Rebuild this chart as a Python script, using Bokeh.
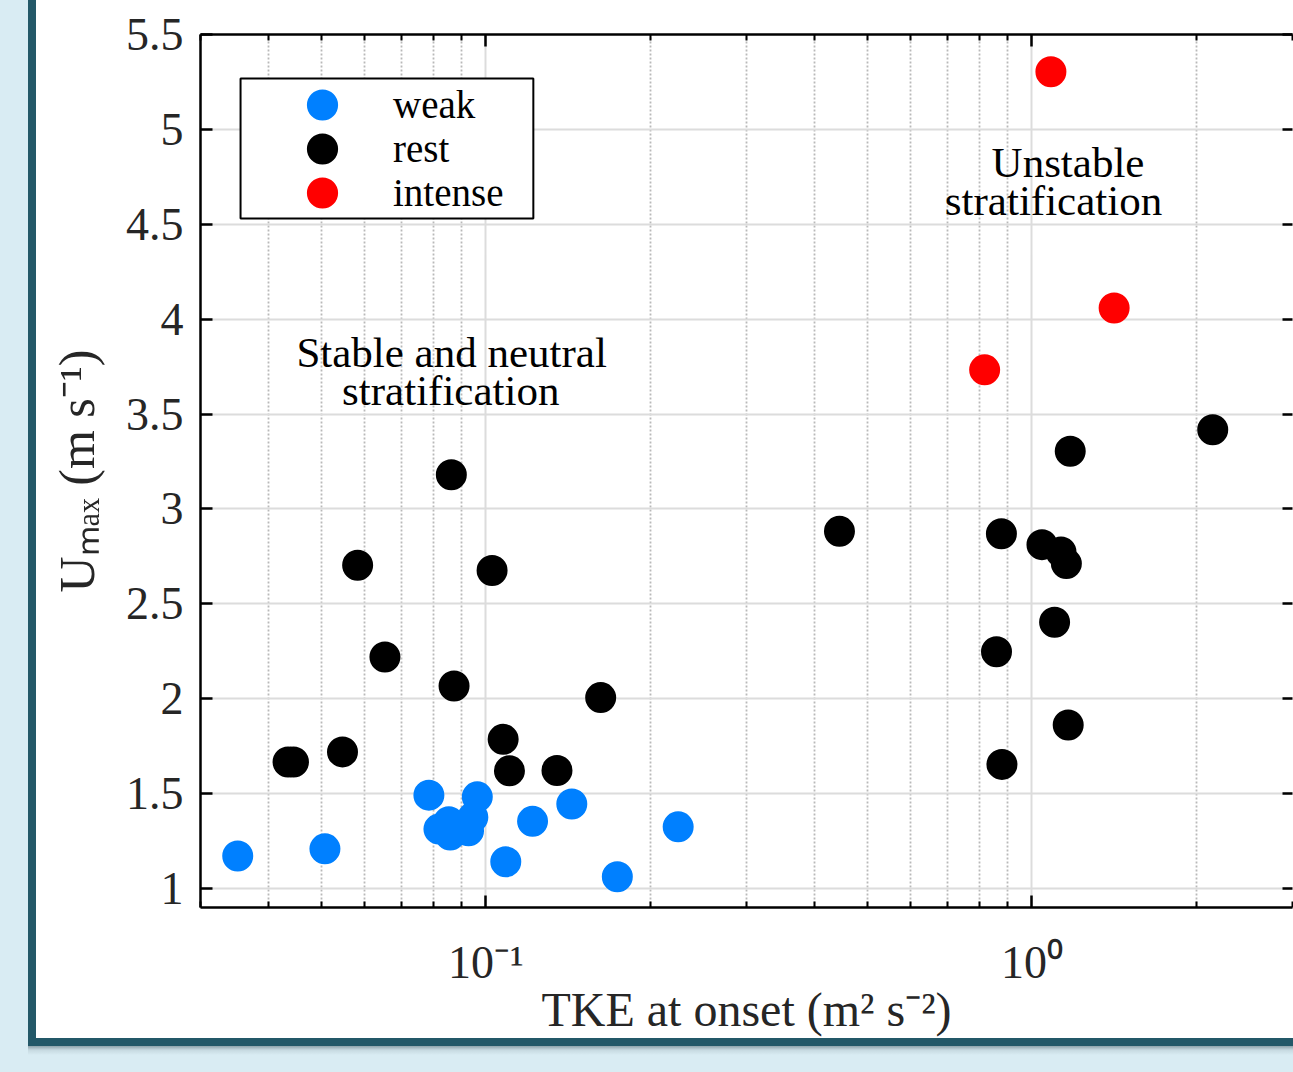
from bokeh.plotting import figure
from bokeh.models import (FixedTicker, LogAxis, LinearAxis, Label, Legend,
                          LegendItem, Spacer, BoxAnnotation)
from bokeh.layouts import row, column
from bokeh.embed import file_html
from bokeh.resources import INLINE

# TKE at onset (m^2 s^-2) and maximum wind speed U_max (m s^-1), per event class
weak_tke = [0.0351, 0.0507, 0.0786, 0.0820, 0.0860, 0.0855, 0.0929, 0.0946,
            0.0964, 0.1087, 0.1217, 0.1436, 0.1740, 0.2249]
weak_umax = [1.171, 1.209, 1.492, 1.313, 1.282, 1.352, 1.304, 1.375,
             1.483, 1.141, 1.354, 1.445, 1.062, 1.325]

rest_tke = [0.0434, 0.0444, 0.0546, 0.0582, 0.0653, 0.0864, 0.0874, 0.1026,
            0.1075, 0.1104, 0.1349, 0.1622, 0.444, 0.879, 1.043, 1.130,
            1.156, 1.100, 0.861, 1.175, 1.165, 0.881, 2.143]
rest_umax = [1.667, 1.667, 1.720, 2.703, 2.220, 3.180, 2.067, 2.676,
             1.786, 1.620, 1.622, 2.006, 2.882, 2.869, 2.812, 2.773,
             2.712, 2.403, 2.248, 3.304, 1.862, 1.654, 3.417]

intense_tke = [1.083, 1.414, 0.819]
intense_umax = [5.304, 4.059, 3.733]

series_names = ["weak", "rest", "intense"]
series_colors = ["#0080ff", "#000000", "#ff0000"]

# axis ticks
x_major_ticks = [0.1, 1]
x_major_labels = ["10\u207b\u00b9", "10\u2070"]
x_minor_ticks = [0.03, 0.04, 0.05, 0.06, 0.07, 0.08, 0.09,
                 0.2, 0.3, 0.4, 0.5, 0.6, 0.7, 0.8, 0.9, 2, 3]
y_ticks = [1, 1.5, 2, 2.5, 3, 3.5, 4, 4.5, 5, 5.5]
y_tick_labels = ["1", "1.5", "2", "2.5", "3", "3.5", "4", "4.5", "5", "5.5"]

SERIF = "Liberation Serif"
INK = "#262626"
PAGE_BG = "#d9ecf3"
EDGE = "#235868"

p = figure(width=1257, height=1038, x_axis_type="log",
           x_range=(0.03, 3), y_range=(0.9, 5.5),
           output_backend="svg", toolbar_location=None,
           min_border_left=164, min_border_right=1,
           min_border_top=34, min_border_bottom=131,
           background_fill_color="white", border_fill_color="white",
           outline_line_color=None)

x_ticker = FixedTicker(ticks=x_major_ticks, minor_ticks=x_minor_ticks)
y_ticker = FixedTicker(ticks=y_ticks, minor_ticks=[])

# grid
p.xgrid.ticker = x_ticker
p.ygrid.ticker = y_ticker
p.xgrid.grid_line_color = "#dcdcdc"
p.xgrid.grid_line_width = 2
p.xgrid.minor_grid_line_color = "#b9b9b9"
p.xgrid.minor_grid_line_width = 1.8
p.xgrid.minor_grid_line_dash = "2 2"
p.ygrid.grid_line_color = "#dcdcdc"
p.ygrid.grid_line_width = 2


def style_axis(ax, tick_in, minor_in, label_size):
    ax.axis_line_color = "black"
    ax.axis_line_width = 2.5
    ax.major_tick_line_color = "black"
    ax.major_tick_line_width = 2.5
    ax.major_tick_in = tick_in
    ax.major_tick_out = 0
    ax.minor_tick_line_color = "black"
    ax.minor_tick_line_width = 2
    ax.minor_tick_in = minor_in
    ax.minor_tick_out = 0
    ax.major_label_text_font = SERIF
    ax.major_label_text_color = INK
    ax.major_label_text_font_size = label_size
    ax.axis_label_text_font = SERIF
    ax.axis_label_text_font_style = "normal"
    ax.axis_label_text_color = INK


# bottom axis
xa = p.xaxis[0]
xa.ticker = x_ticker
style_axis(xa, 12, 6, "46px")
xa.major_label_overrides = dict(zip(x_major_ticks, x_major_labels))
xa.major_label_standoff = 29
xa.axis_label = "TKE at onset (m\u00b2 s\u207b\u00b2)"
xa.axis_label_text_font_size = "48px"
xa.axis_label_standoff = -8

# left axis
ya = p.yaxis[0]
ya.ticker = y_ticker
style_axis(ya, 12, 0, "46px")
ya.major_label_overrides = dict(zip(y_ticks, y_tick_labels))
ya.major_label_standoff = 17
ya.axis_label = "U\u2098\u2090\u2093 (m s\u207b\u00b9)"
ya.axis_label_text_font_size = "50px"
ya.axis_label_standoff = 18

# top and right axes close the box, ticks only
top = LogAxis(ticker=x_ticker)
style_axis(top, 12, 6, "1px")
top.major_label_text_color = None
top.major_label_standoff = 0
p.add_layout(top, "above")

right = LinearAxis(ticker=y_ticker)
style_axis(right, 10, 0, "1px")
right.major_label_text_color = None
right.axis_line_color = None
right.major_label_standoff = 0
p.add_layout(right, "right")

# scatter series
renderers = []
for xs, ys, color in [(weak_tke, weak_umax, series_colors[0]),
                      (rest_tke, rest_umax, series_colors[1]),
                      (intense_tke, intense_umax, series_colors[2])]:
    r = p.scatter(x=xs, y=ys, marker="circle", size=17,
                  fill_color=color, line_color=color, line_width=14)
    renderers.append(r)

# legend: one framed box holding three tightly stacked entries
p.add_layout(BoxAnnotation(left=0.03552, right=0.1221, top=5.268, bottom=4.531,
                           fill_color="white", fill_alpha=1,
                           line_color="black", line_width=2, line_alpha=1))
entry_offsets = [780, 736, 692]   # entry bottom, px above the frame bottom
for name, r, oy in zip(series_names, renderers, entry_offsets):
    p.add_layout(Legend(items=[LegendItem(label=name, renderers=[r])],
                        location=(62, oy), margin=0, padding=0, spacing=0,
                        glyph_height=43, glyph_width=120, label_standoff=11,
                        label_height=43,
                        label_text_font=SERIF, label_text_font_size="39px",
                        label_text_color="black",
                        border_line_color=None,
                        background_fill_alpha=0))

# regime annotations
for text, x, y in [("Stable and neutral", 0.0865, 3.823),
                   ("stratification", 0.0862, 3.623),
                   ("Unstable", 1.164, 4.823),
                   ("stratification", 1.095, 4.623)]:
    p.add_layout(Label(x=x, y=y, text=text, text_font=SERIF,
                       text_font_size="43px", text_color="black",
                       text_align="center", text_baseline="alphabetic"))

# page: light backdrop, card with dark left/bottom edge
card = column(p, Spacer(width=1257, height=8,
                        styles={"background-color": EDGE}), spacing=0)
upper = row(Spacer(width=28, height=1046, styles={"background-color": PAGE_BG}),
            Spacer(width=8, height=1046, styles={"background-color": EDGE}),
            card, spacing=0)
lower = row(Spacer(width=28, height=26, styles={"background-color": PAGE_BG}),
            Spacer(width=1265, height=26,
                   styles={"background": "linear-gradient(to bottom, #8ea3ab 0px, #c6d9e0 4px, #d9ecf3 9px)"}),
            spacing=0)
page = column(upper, lower, spacing=0)

open("out.html", "w").write(file_html(page, INLINE))
